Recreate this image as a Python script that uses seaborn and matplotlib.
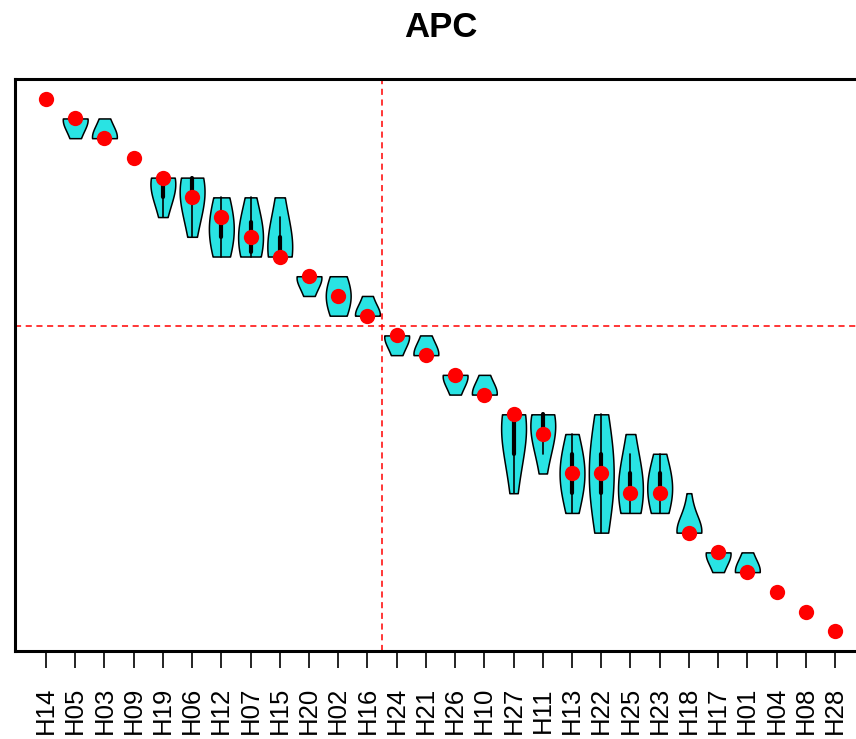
import numpy as np
import pandas as pd
import matplotlib
matplotlib.use("Agg")
import matplotlib.pyplot as plt
import seaborn as sns

# ---- data ----
categories = ["H14", "H05", "H03", "H09", "H19", "H06", "H12", "H07", "H15", "H20",
              "H02", "H16", "H24", "H21", "H26", "H10", "H27", "H11", "H13", "H22",
              "H25", "H23", "H18", "H17", "H01", "H04", "H08", "H28"]
observed_rank = [1, 2, 3, 4, 5, 6, 7, 8, 9, 10, 11, 12, 13, 14, 15, 16, 17, 18,
                 20, 20, 21, 21, 23, 24, 25, 26, 27, 28]

# rank distributions (e.g. resampling) for the categories that show a violin
vio_cats = ["H05", "H03", "H19", "H06", "H12", "H07", "H15", "H20", "H02", "H16",
            "H24", "H21", "H26", "H10", "H27", "H11", "H13", "H22", "H25", "H23",
            "H18", "H17", "H01"]
vio_first_rank = [2, 2, 5, 5, 6, 6, 6, 10, 10, 11, 13, 13, 15, 15, 17, 17, 18, 17,
                  18, 19, 21, 24, 24]
vio_counts = [
    [7, 2],
    [2, 7],
    [6, 3, 1],
    [5, 4, 2, 1],
    [2, 3, 4, 2],
    [1, 2, 4, 3],
    [1, 1, 2, 5],
    [7, 2],
    [2, 5, 2],
    [3, 10],
    [7, 2],
    [2, 7],
    [7, 2],
    [2, 7],
    [6, 3, 2, 1, 1],
    [5, 4, 1, 1],
    [1, 3, 4, 3, 1],
    [2, 3, 4, 4, 4, 3, 2],
    [1, 1, 3, 4, 3],
    [1, 3, 4, 2],
    [1, 2, 10],
    [7, 2],
    [2, 7],
]
split_after_index = 11.5   # vertical dashed divider (between H16 and H24)
split_rank = 12.5          # horizontal dashed divider
title = "APC"

# ---- build long table ----
rows = []
for cat, first, counts in zip(vio_cats, vio_first_rank, vio_counts):
    ranks = np.arange(first, first + len(counts))
    for r in np.repeat(ranks, counts):
        rows.append((cat, float(r)))
vio_df = pd.DataFrame(rows, columns=["cat", "rank"])
pts_df = pd.DataFrame({"cat": categories, "rank": observed_rank})

# ---- figure ----
sns.set_theme(style="white")
plt.rcParams["font.family"] = ["Liberation Sans", "DejaVu Sans"]

W, H = 856, 739
fig = plt.figure(figsize=(W / 100, H / 100), dpi=100)
ax_left, ax_right, ax_top, ax_bottom = 15, 866, 79, 651
ax = fig.add_axes([ax_left / W, 1 - ax_bottom / H,
                   (ax_right - ax_left) / W, (ax_bottom - ax_top) / H])

sns.violinplot(data=vio_df, x="cat", y="rank", order=categories, ax=ax,
               color="#29e3e3", saturation=1, linecolor="black", linewidth=1.1,
               cut=0, density_norm="width", width=0.85, bw_adjust=2.0,
               inner="box",
               inner_kws=dict(box_width=3.0, whis_width=1.2, marker="", color="black"))

sns.stripplot(data=pts_df, x="cat", y="rank", order=categories, ax=ax,
              jitter=False, color="red", size=11, linewidth=0, zorder=5)

n = len(categories)
ax.axvline(split_after_index, color="red", linestyle=(0, (4, 3)), linewidth=1.1, zorder=1)
ax.axhline(split_rank, color="red", linestyle=(0, (4, 3)), linewidth=1.1, zorder=1)

ax.set_xlim(-1.06, n - 1 + 1.06)
ax.set_ylim(n + 1, 0)
ax.set_yticks([])
ax.set_xlabel("")
ax.set_ylabel("")
ax.tick_params(axis="x", which="both", bottom=True, length=12, width=1.2,
               color="black", pad=14, labelsize=18.5, labelrotation=90,
               labelcolor="black")
for s in ax.spines.values():
    s.set_color("black")
    s.set_linewidth(2.2)

fig.text((ax_left + ax_right) / 2 / W, 1 - 37 / H, title, ha="center",
         va="baseline", fontsize=25, fontweight="bold", color="black")

fig.savefig("out.png", dpi=100, facecolor="white")
